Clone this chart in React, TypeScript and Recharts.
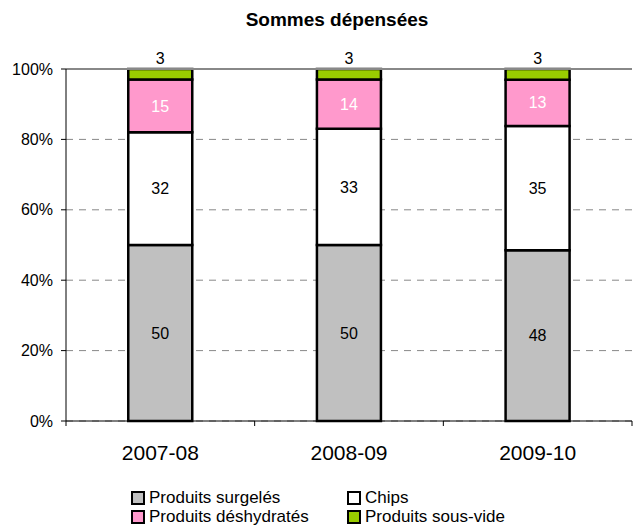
import { Bar, BarChart, CartesianGrid, LabelList, ReferenceLine, XAxis, YAxis } from "recharts";

const years = ["2007-08", "2008-09", "2009-10"];
const surgeles = [50, 50, 48];
const chips = [32, 33, 35];
const deshydrates = [15, 14, 13];
const sousVide = [3, 3, 3];
const yTicks = [0, 0.2, 0.4, 0.6, 0.8, 1];

const series = [
  { key: "surgeles", name: "Produits surgelés", color: "#C0C0C0", text: "#000" },
  { key: "chips", name: "Chips", color: "#FFFFFF", text: "#000" },
  { key: "deshydrates", name: "Produits déshydratés", color: "#FF99CC", text: "#FFF" },
  { key: "sousVide", name: "Produits sous-vide", color: "#99CC00", text: "#000" },
];

const data = years.map((year, i) => ({
  year,
  surgeles: surgeles[i],
  chips: chips[i],
  deshydrates: deshydrates[i],
  sousVide: sousVide[i],
}));

const FONT = "'Liberation Sans', Arial, sans-serif";
const W = 637;
const H = 528;
const Y_W = 66;
const X_H = 40;
const M = { top: 69, right: 5, bottom: 107 - X_H, left: 0 };
const BAND = (W - Y_W - M.right) / years.length;

function XTick(props: any) {
  const { x, y, payload, index } = props;
  return (
    <g>
      <line x1={x - BAND / 2} x2={x - BAND / 2} y1={y - 8} y2={y - 3} stroke="#000" />
      {index === years.length - 1 && (
        <line x1={x + BAND / 2} x2={x + BAND / 2} y1={y - 8} y2={y - 3} stroke="#000" />
      )}
      <text x={x} y={y + 31} textAnchor="middle" fontSize={21} fontFamily={FONT} fill="#000">
        {payload.value}
      </text>
    </g>
  );
}

export default function App() {
  return (
    <div style={{ position: "absolute", left: 0, top: 0, width: W, height: H, background: "#fff" }}>
      <div
        style={{
          position: "absolute",
          top: 9,
          left: 237,
          width: 200,
          textAlign: "center",
          fontFamily: FONT,
          fontWeight: "bold",
          fontSize: 19,
          lineHeight: "22px",
          whiteSpace: "nowrap",
        }}
      >
        Sommes dépensées
      </div>
      <BarChart width={W} height={H} data={data} margin={M} stackOffset="expand" barCategoryGap="33%">
        <CartesianGrid vertical={false} stroke="#888" strokeDasharray="7 6" />
        <ReferenceLine y={1} stroke="#888" strokeWidth={2} />
        <XAxis
          dataKey="year"
          height={X_H}
          axisLine={{ stroke: "#000" }}
          tickLine={false}
          tick={<XTick />}
          interval={0}
        />
        <YAxis
          domain={[0, 1]}
          ticks={yTicks}
          tickFormatter={(v: number) => `${Math.round(v * 100)}%`}
          axisLine={{ stroke: "#000" }}
          tickLine={{ stroke: "#000" }}
          tickSize={5}
          tickMargin={8}
          tick={{ fontSize: 16, fontFamily: FONT, fill: "#000" }}
          width={Y_W}
        />
        <YAxis
          yAxisId="r"
          orientation="right"
          axisLine={{ stroke: "#888", strokeWidth: 2 }}
          tick={false}
          tickLine={false}
          width={0}
        />
        {series.map((s) => (
          <Bar
            key={s.key}
            dataKey={s.key}
            name={s.name}
            stackId="a"
            fill={s.color}
            stroke="#000"
            strokeWidth={2.5}
            isAnimationActive={false}
          >
            <LabelList
              dataKey={s.key}
              position={s.key === "sousVide" ? "top" : "center"}
              offset={5}
              fill={s.text}
              fontSize={16}
              fontFamily={FONT}
            />
          </Bar>
        ))}
      </BarChart>
      <div
        style={{
          position: "absolute",
          left: 131,
          top: 488,
          display: "grid",
          gridTemplateColumns: "216px 220px",
          fontFamily: FONT,
          fontSize: 17,
          lineHeight: "19px",
          color: "#000",
        }}
      >
        {series.map((s) => (
          <div key={s.key} style={{ display: "flex", alignItems: "center", whiteSpace: "nowrap" }}>
            <span
              style={{
                display: "inline-block",
                width: 10,
                height: 10,
                border: "2px solid #000",
                background: s.color,
                marginRight: 4,
              }}
            />
            {s.name}
          </div>
        ))}
      </div>
    </div>
  );
}
